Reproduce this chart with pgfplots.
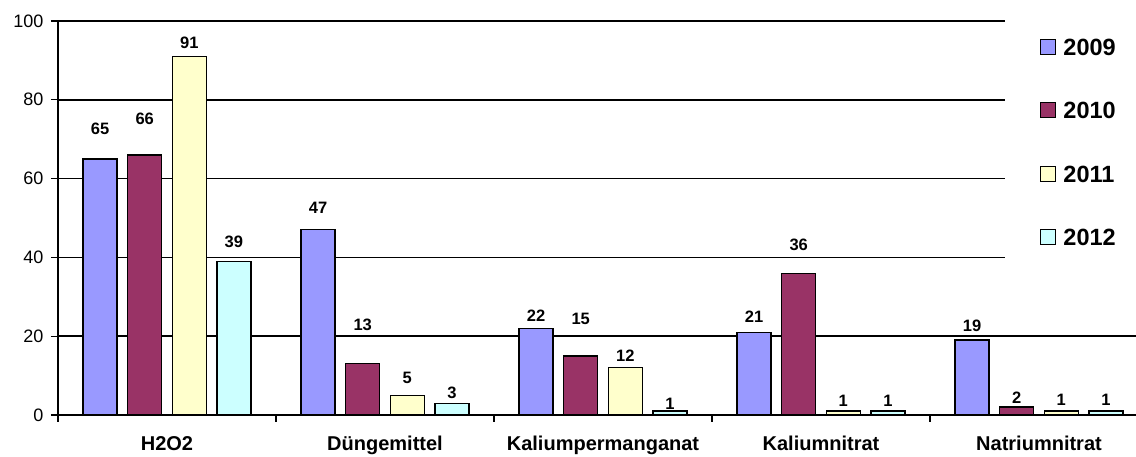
\documentclass[border=0pt]{standalone}
\usepackage{pgfplots}
\pgfplotsset{compat=1.18}
\usepackage{pgfplotstable}
\usepackage{fontspec}
\setmainfont{Liberation Sans}
\definecolor{c09}{HTML}{9999FF}
\definecolor{c10}{HTML}{993366}
\definecolor{c11}{HTML}{FFFFCC}
\definecolor{c12}{HTML}{CCFFFF}
\pgfplotstableread{
x y dy
0 65 30
1 47 22
2 22 13
3 21 16
4 19 14
}\dA
\pgfplotstableread{
x y dy
0 66 36
1 13 39
2 15 37
3 36 28
4 2 9
}\dB
\pgfplotstableread{
x y dy
0 91 14
1 5 17
2 12 12
3 1 10
4 1 11
}\dC
\pgfplotstableread{
x y dy
0 39 20
1 3 10
2 1 7
3 1 10
4 1 11
}\dD
\begin{document}
\begin{tikzpicture}
\useasboundingbox (0,0) rectangle (1136pt,457pt);
\begin{axis}[
 at={(58pt,42pt)}, anchor=south west,
 width=1078pt, height=394pt, scale only axis,
 ybar, bar width=34pt, ybar=10.6pt,
 xmin=-0.5, xmax=4.445, ymin=0, ymax=100,
 axis x line=bottom, axis y line=left,
 axis line style={-, line width=1.5pt, black},
 tick align=outside, major tick length=7pt,
 tick style={black, line width=1.2pt},
 ytick={0,20,...,100},
 ymajorgrids, grid style={black, line width=1.5pt},
 /pgf/number format/assume math mode=true,
 yticklabel style={font=\fontsize{18}{20}\selectfont, anchor=east, xshift=-4pt},
 xtick={-0.5,0.5,...,3.5}, xticklabels={},
 extra x ticks={0,1,2,3,4},
 extra x tick labels={H2O2,Düngemittel,Kaliumpermanganat,Kaliumnitrat,Natriumnitrat},
 extra x tick style={major tick length=0pt, grid=none,
   xticklabel style={font=\bfseries\fontsize{20}{22}\selectfont, anchor=base, yshift=-36pt}},
 every axis plot/.append style={draw=black, line width=1.3pt},
 legend style={draw=none, fill=white, at={(0.8785,1.0178)}, anchor=north west,
   inner xsep=35pt, inner ysep=24pt, row sep=46.5pt, column sep=7pt,
   font=\bfseries\fontsize{23.5}{26}\selectfont,
   nodes={inner sep=0pt, text height=17pt, text depth=0pt}},
 legend cell align=left,
 legend image code/.code={\draw[#1, draw=black, line width=1.2pt] (0pt,-7.5pt) rectangle (15pt,7.5pt);},
]
\pgfplotsset{lbl/.style={nodes near coords,
 visualization depends on={\thisrow{dy} \as \dy},
 every node near coord/.append style={font=\bfseries\fontsize{16.5}{18}\selectfont, anchor=center, yshift=\dy pt, inner sep=0pt}}}
\addplot[fill=c09, lbl] table[x=x,y=y] {\dA};
\addplot[fill=c10, lbl] table[x=x,y=y] {\dB};
\addplot[fill=c11, lbl] table[x=x,y=y] {\dC};
\addplot[fill=c12, lbl] table[x=x,y=y] {\dD};
\legend{2009,2010,2011,2012}
\end{axis}
\end{tikzpicture}
\end{document}
